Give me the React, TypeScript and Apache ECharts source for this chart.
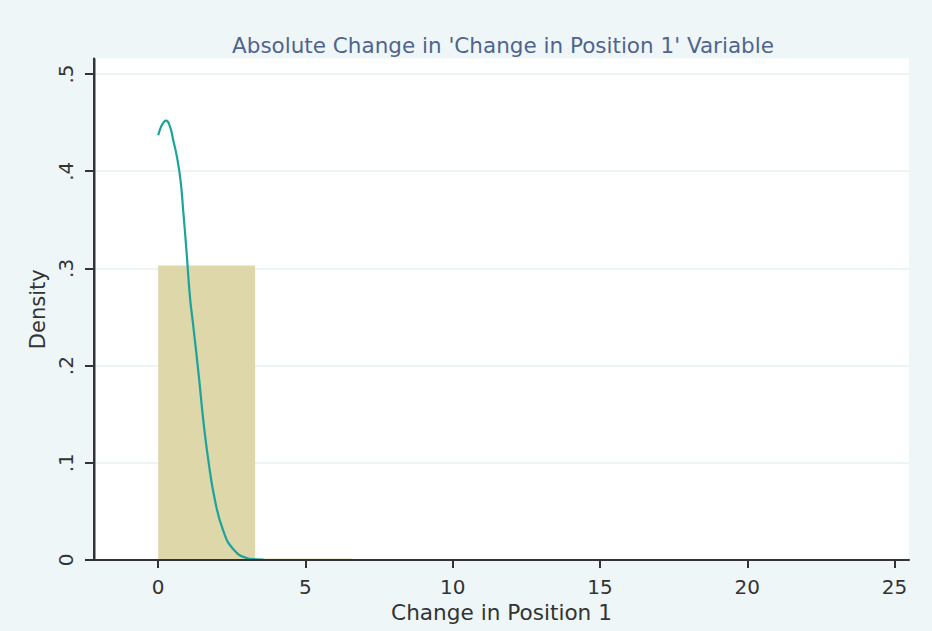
import React, { useEffect, useRef } from "react";
import * as echarts from "echarts";

// Histogram bins: [start, end, density]
const binStarts = [0, 3.29];
const binEnds = [3.29, 6.58];
const binDensity = [0.303, 0.0015];

// Kernel density estimate
const kdeX = [0, 0.1, 0.2, 0.27, 0.4, 0.51, 0.64, 0.76, 0.85, 0.96, 1.08, 1.19, 1.38, 1.53, 1.7, 1.93, 2.21, 2.55, 3.0, 3.3, 3.57];
const kdeY = [0.437, 0.446, 0.451, 0.452, 0.446, 0.432, 0.414, 0.39, 0.359, 0.318, 0.27, 0.241, 0.189, 0.144, 0.103, 0.061, 0.03, 0.011, 0.002, 0.0007, 0.0003];

const xTicks = [0, 5, 10, 15, 20, 25];
const yTicks = [0, 0.1, 0.2, 0.3, 0.4, 0.5];
const xRange = [-2.18, 25.49];
const yRange = [0, 0.516];

const titleText = "Absolute Change in 'Change in Position 1' Variable";
const xTitle = "Change in Position 1";
const yTitle = "Density";

export default function App() {
  const ref = useRef<HTMLDivElement>(null);
  useEffect(() => {
    document.body.style.margin = "0";
    if (!ref.current) return;
    const chart = echarts.init(ref.current, undefined, { renderer: "svg" });
    const font = "DejaVu Sans";
    const histData = binStarts.map((s, i) => [s, binEnds[i], binDensity[i]]);
    const kdeData = kdeX.map((x, i) => [x, kdeY[i]]);
    chart.setOption({
      animation: false,
      backgroundColor: "#EFF6F7",
      title: {
        text: titleText,
        left: 498,
        textAlign: "center",
        top: 29,
        textStyle: { fontFamily: font, fontSize: 21.5, fontWeight: "normal", color: "#50648F" },
      },
      grid: {
        left: 94,
        right: 23,
        top: 58.5,
        bottom: 71,
        containLabel: false,
        outerBoundsMode: "none",
        show: false,
      },
      xAxis: {
        type: "value",
        min: xRange[0],
        max: xRange[1],
        z: 5,
        name: xTitle,
        nameLocation: "middle",
        nameGap: 30,
        nameTextStyle: { fontFamily: font, fontSize: 21.6, color: "#333333" },
        axisLine: { show: true, onZero: false, lineStyle: { color: "#333333", width: 2 } },
        axisTick: { show: true, length: 8, customValues: xTicks, lineStyle: { color: "#333333", width: 2 } },
        axisLabel: { customValues: xTicks, margin: 17, fontFamily: font, fontSize: 20, color: "#333333" },
        splitLine: { show: false },
      },
      yAxis: {
        type: "value",
        min: yRange[0],
        max: yRange[1],
        interval: 0.1,
        z: 1,
        name: yTitle,
        nameLocation: "middle",
        nameRotate: 90,
        nameGap: 43,
        nameTextStyle: { fontFamily: font, fontSize: 21, color: "#333333" },
        axisLine: { show: true, onZero: false, lineStyle: { color: "#333333", width: 2 } },
        axisTick: { show: true, length: 9, customValues: yTicks, lineStyle: { color: "#333333", width: 2 } },
        axisLabel: {
          customValues: yTicks,
          rotate: 90,
          margin: 18,
          fontFamily: font,
          fontSize: 20,
          color: "#333333",
          formatter: (v: number) => (v === 0 ? "0" : "." + Math.round(v * 10)),
        },
        splitLine: { show: true, lineStyle: { color: "#E6F0F2", width: 1.5 } },
      },
      series: [
        {
          // white plot region
          type: "custom",
          data: [[xRange[0], xRange[1], yRange[0], yRange[1]]],
          z: 0,
          silent: true,
          clip: false,
          encode: { x: [0, 1], y: [2, 3] },
          renderItem: (params: any, api: any) => {
            const a = api.coord([api.value(0), api.value(3)]);
            const b = api.coord([api.value(1), api.value(2)]);
            return {
              type: "rect",
              shape: { x: a[0] + 1, y: a[1], width: b[0] - a[0] - 1, height: b[1] - a[1] },
              style: { fill: "#FFFFFF" },
            };
          },
        },
        {
          type: "custom",
          data: histData,
          z: 2,
          encode: { x: [0, 1], y: 2 },
          renderItem: (params: any, api: any) => {
            const p0 = api.coord([api.value(0), api.value(2)]);
            const p1 = api.coord([api.value(1), 0]);
            return {
              type: "rect",
              shape: { x: p0[0], y: p0[1], width: p1[0] - p0[0], height: p1[1] - p0[1] },
              style: { fill: "#DDD7A9" },
            };
          },
        },
        {
          type: "line",
          data: kdeData,
          smooth: true,
          showSymbol: false,
          lineStyle: { color: "#1BA39C", width: 2.2 },
          z: 4,
        },
        {
          // y axis line and its bottom tick, drawn as filled rects through the axis scales
          type: "custom",
          data: [[xRange[0], yRange[0], yRange[1]]],
          z: 10,
          silent: true,
          clip: false,
          encode: { x: 0, y: [1, 2] },
          renderItem: (params: any, api: any) => {
            const b = api.coord([api.value(0), api.value(1)]);
            const t = api.coord([api.value(0), api.value(2)]);
            return {
              type: "group",
              children: [
                {
                  type: "rect",
                  shape: { x: b[0] - 1, y: t[1], width: 2.5, height: b[1] - t[1] + 1 },
                  style: { fill: "#333333" },
                },
                {
                  type: "rect",
                  shape: { x: b[0] - 9, y: b[1] - 1, width: 9, height: 2 },
                  style: { fill: "#333333" },
                },
              ],
            };
          },
        },
      ],
    });
    return () => chart.dispose();
  }, []);
  return <div ref={ref} style={{ width: 932, height: 631 }} />;
}
